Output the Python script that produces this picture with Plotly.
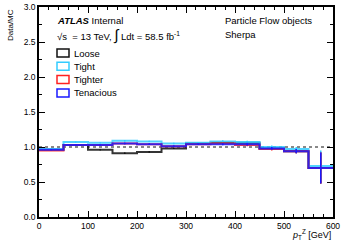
import plotly.graph_objects as go

edges = [0, 50, 100, 150, 200, 250, 300, 350, 400, 450, 500, 550, 600]
centers = [25, 75, 125, 175, 225, 275, 325, 375, 425, 475, 525, 575]

loose = [0.96, 1.03, 0.96, 0.91, 0.93, 0.98, 1.05, 1.06, 1.06, 0.98, 0.94, 0.70]
tight = [0.97, 1.07, 1.06, 1.09, 1.08, 1.05, 1.06, 1.08, 1.07, 1.00, 0.97, 0.73]
tighter = [0.95, 1.03, 1.03, 1.05, 1.04, 1.01, 1.04, 1.05, 1.03, 0.97, 0.94, 0.70]
tenacious = [0.96, 1.03, 1.03, 1.05, 1.04, 1.01, 1.04, 1.04, 1.04, 0.98, 0.94, 0.70]
err = [0.005, 0.005, 0.005, 0.01, 0.01, 0.01, 0.01, 0.015, 0.02, 0.02, 0.03, 0.22]

series = [
    ("Loose", loose, "#111111"),
    ("Tight", tight, "#33ccff"),
    ("Tighter", tighter, "#ff2020"),
    ("Tenacious", tenacious, "#1a1aff"),
]

W, H = 341, 242
L, R, T, B = 39, 333, 7, 217

def px(x):
    return (x - L) / (R - L)

def py(y):
    return (B - y) / (B - T)

fig = go.Figure()

fig.add_trace(go.Scatter(x=[0, 600], y=[1, 1], mode="lines",
                         line=dict(color="#888888", width=2, dash="dot"),
                         showlegend=False, hoverinfo="skip"))

for name, vals, col in series:
    fig.add_trace(go.Scatter(x=edges, y=vals + [vals[-1]], mode="lines",
                             line=dict(color=col, width=2, shape="hv"),
                             opacity=0.85, name=name, showlegend=False))
    fig.add_trace(go.Scatter(x=centers, y=vals, mode="markers",
                             marker=dict(size=1, color=col),
                             error_y=dict(type="data", array=err, color=col,
                                          thickness=1.5, width=0),
                             showlegend=False, hoverinfo="skip"))

font = "Liberation Sans, Arial, sans-serif"

annotations = [
    dict(x=px(55), y=py(20), text="<b><i>ATLAS</i></b> Internal", font=dict(size=9.5)),
    dict(x=px(55), y=py(35),
         text="√s  = 13 TeV, <span style='font-size:15px'>∫</span> Ldt = 58.5 fb<sup>-1</sup>",
         font=dict(size=9.5)),
    dict(x=px(223), y=py(20), text="Particle Flow objects", font=dict(size=9.5)),
    dict(x=px(223), y=py(35), text="Sherpa", font=dict(size=9.5)),
]
shapes = []
for i, (name, vals, col) in enumerate(series):
    yc = 53 + i * 13.3
    shapes.append(dict(type="rect", xref="paper", yref="paper",
                       x0=px(57), x1=px(69), y0=py(yc + 4), y1=py(yc - 4),
                       line=dict(color=col, width=1.5), fillcolor="white"))
    annotations.append(dict(x=px(72), y=py(yc), text=name, font=dict(size=9.5)))

for a in annotations:
    a.update(xref="paper", yref="paper", xanchor="left", yanchor="middle",
             showarrow=False)
    a["font"]["family"] = font
    a["font"]["color"] = "black"

annotations.append(dict(x=1.0, y=py(234), xref="paper", yref="paper",
                        xanchor="right", yanchor="middle", showarrow=False,
                        text="<i>p</i><sub>T</sub><sup>Z</sup> [GeV]",
                        font=dict(size=9, family=font, color="black")))
annotations.append(dict(x=px(10), y=1.0, xref="paper", yref="paper",
                        xanchor="center", yanchor="top", showarrow=False,
                        textangle=-90, text="Data/MC",
                        font=dict(size=8, family=font, color="black")))

fig.update_layout(
    width=W, height=H,
    margin=dict(l=L, r=W - R, t=T, b=H - B, autoexpand=False),
    paper_bgcolor="white", plot_bgcolor="white",
    showlegend=False,
    annotations=annotations, shapes=shapes,
    font=dict(family=font, size=8, color="black"),
    xaxis=dict(range=[0, 600], tickvals=[0, 100, 200, 300, 400, 500, 600],
               ticks="inside", ticklen=6, tickwidth=1, tickcolor="black",
               showline=True, linecolor="black", linewidth=1.5, mirror="ticks",
               showgrid=False, zeroline=False, automargin=False,
               minor=dict(dtick=20, ticks="inside", ticklen=3, tickcolor="black"),
               tickfont=dict(size=8.5)),
    yaxis=dict(range=[0, 3.0], tickvals=[0, 0.5, 1.0, 1.5, 2.0, 2.5, 3.0],
               ticktext=["0.0", "0.5", "1.0", "1.5", "2.0", "2.5", "3.0"],
               ticks="inside", ticklen=6, tickwidth=1, tickcolor="black",
               showline=True, linecolor="black", linewidth=1.5, mirror="ticks",
               showgrid=False, zeroline=False, automargin=False,
               minor=dict(dtick=0.25, ticks="inside", ticklen=3, tickcolor="black"),
               tickfont=dict(size=8.5)),
)

fig.write_html("out.html", config={"displayModeBar": False},
               post_script="document.body.style.margin='0px';")
